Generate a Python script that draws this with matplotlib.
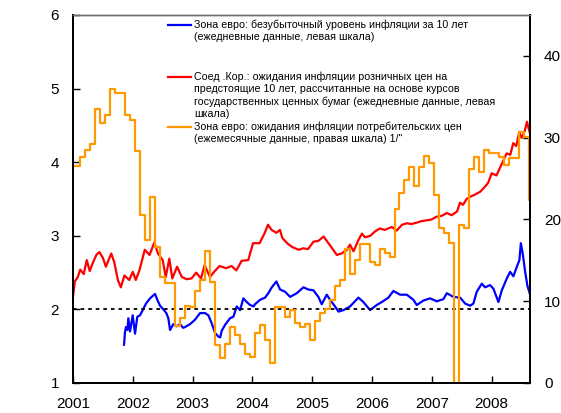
import numpy as np
import matplotlib.pyplot as plt
from matplotlib.lines import Line2D

plt.rcParams['font.family'] = ['Liberation Sans', 'DejaVu Sans']

# Зона евро: безубыточный уровень инфляции за 10 лет (левая шкала)
euro_t = [2001.853, 2001.87, 2001.886, 2001.91, 2001.925, 2001.953, 2001.998, 2002.037,
          2002.075, 2002.12, 2002.166, 2002.221, 2002.288, 2002.371, 2002.41, 2002.455,
          2002.522, 2002.56, 2002.594, 2002.622, 2002.677, 2002.734, 2002.789, 2002.84,
          2002.873, 2002.957, 2003.04, 2003.124, 2003.207, 2003.263, 2003.319, 2003.375,
          2003.43, 2003.46, 2003.487, 2003.542, 2003.625, 2003.681, 2003.737, 2003.793,
          2003.848, 2003.905, 2003.96, 2004.02, 2004.043, 2004.127, 2004.211, 2004.266,
          2004.323, 2004.40, 2004.462, 2004.545, 2004.629, 2004.741, 2004.852, 2004.935,
          2005.018, 2005.102, 2005.158, 2005.242, 2005.298, 2005.381, 2005.437, 2005.52,
          2005.632, 2005.771, 2005.855, 2005.967, 2006.078, 2006.162, 2006.273, 2006.356,
          2006.468, 2006.58, 2006.691, 2006.747, 2006.858, 2006.97, 2007.081, 2007.193,
          2007.249, 2007.36, 2007.472, 2007.555, 2007.639, 2007.694, 2007.75, 2007.834,
          2007.89, 2007.973, 2008.029, 2008.112, 2008.169, 2008.252, 2008.308, 2008.363,
          2008.42, 2008.463, 2008.487, 2008.52, 2008.559, 2008.597, 2008.642]
euro_be = [1.52, 1.70, 1.76, 1.72, 1.88, 1.70, 1.92, 1.67,
           1.90, 1.92, 1.99, 2.08, 2.15, 2.21, 2.13, 2.05,
           1.99, 1.95, 1.88, 1.72, 1.80, 1.77, 1.80, 1.75,
           1.76, 1.80, 1.86, 1.95, 1.95, 1.92, 1.81, 1.68,
           1.63, 1.62, 1.71, 1.79, 1.88, 1.90, 2.04, 1.99,
           2.15, 2.10, 2.06, 2.04, 2.07, 2.13, 2.16, 2.22,
           2.30, 2.38, 2.27, 2.24, 2.17, 2.22, 2.30, 2.27,
           2.26, 2.17, 2.07, 2.20, 2.13, 2.04, 1.97, 1.99,
           2.04, 2.16, 2.10, 1.99, 2.06, 2.10, 2.16, 2.25,
           2.20, 2.20, 2.13, 2.06, 2.12, 2.15, 2.11, 2.14,
           2.22, 2.17, 2.16, 2.08, 2.05, 2.08, 2.24, 2.35,
           2.30, 2.33, 2.28, 2.10, 2.26, 2.42, 2.51, 2.45,
           2.58, 2.67, 2.90, 2.75, 2.51, 2.32, 2.20]

# Соед. Кор.: ожидания инфляции по курсам гос. ценных бумаг (левая шкала)
us_t = [2001.00, 2001.03, 2001.08, 2001.12, 2001.18, 2001.23, 2001.28, 2001.33,
        2001.39, 2001.44, 2001.50, 2001.55, 2001.64, 2001.69, 2001.75, 2001.80,
        2001.86, 2001.94, 2002.00, 2002.05, 2002.11, 2002.20, 2002.28, 2002.36,
        2002.42, 2002.50, 2002.55, 2002.61, 2002.66, 2002.74, 2002.82, 2002.90,
        2002.98, 2003.06, 2003.14, 2003.20, 2003.29, 2003.37, 2003.45, 2003.56,
        2003.65, 2003.73, 2003.82, 2003.93, 2004.01, 2004.12, 2004.20, 2004.26,
        2004.32, 2004.40, 2004.46, 2004.50, 2004.58, 2004.66, 2004.77, 2004.85,
        2004.93, 2005.02, 2005.10, 2005.19, 2005.27, 2005.35, 2005.41, 2005.49,
        2005.58, 2005.63, 2005.69, 2005.77, 2005.83, 2005.88, 2005.97, 2006.05,
        2006.13, 2006.21, 2006.33, 2006.41, 2006.50, 2006.58, 2006.66, 2006.75,
        2006.83, 2006.91, 2006.99, 2007.08, 2007.16, 2007.25, 2007.33, 2007.42,
        2007.47, 2007.52, 2007.58, 2007.64, 2007.72, 2007.81, 2007.89, 2007.94,
        2008.00, 2008.08, 2008.17, 2008.25, 2008.31, 2008.36, 2008.41, 2008.46,
        2008.50, 2008.55, 2008.59, 2008.62, 2008.64]
us_tips = [2.17, 2.38, 2.44, 2.54, 2.48, 2.67, 2.52, 2.63,
           2.74, 2.78, 2.70, 2.58, 2.76, 2.64, 2.40, 2.30,
           2.46, 2.40, 2.51, 2.40, 2.53, 2.81, 2.74, 2.91,
           2.76, 2.67, 2.44, 2.69, 2.42, 2.58, 2.44, 2.41,
           2.42, 2.50, 2.42, 2.60, 2.44, 2.52, 2.59, 2.56,
           2.59, 2.53, 2.66, 2.67, 2.90, 2.90, 3.03, 3.15,
           3.08, 3.04, 3.08, 2.97, 2.90, 2.85, 2.81, 2.83,
           2.82, 2.92, 2.93, 2.99, 2.90, 2.81, 2.74, 2.76,
           2.81, 2.88, 2.79, 2.94, 3.03, 2.98, 3.00, 3.06,
           3.10, 3.08, 3.12, 3.07, 3.15, 3.17, 3.16, 3.18,
           3.20, 3.21, 3.22, 3.26, 3.27, 3.31, 3.28, 3.33,
           3.45, 3.42, 3.50, 3.53, 3.56, 3.60, 3.67, 3.72,
           3.85, 3.82, 3.98, 4.12, 4.10, 4.26, 4.22, 4.41,
           4.33, 4.42, 4.55, 4.45, 4.39]

# Зона евро: ожидания инфляции потребительских цен, ежемесячно с янв. 2001 (правая шкала)
euro_cpi = [26.5, 26.5, 27.6, 28.5, 29.2, 33.5, 31.8, 32.8, 35.9, 35.5, 35.5, 32.8,
            32.2, 28.4, 20.5, 17.5, 22.7, 16.6, 13.0, 12.25, 12.25, 7.0, 7.9, 9.4,
            9.3, 11.3, 12.6, 16.1, 12.4, 4.6, 3.0, 4.8, 6.8, 5.9, 4.8, 3.5,
            3.2, 6.1, 7.1, 5.3, 2.5, 9.3, 9.3, 8.1, 8.9, 7.3, 6.9, 7.2,
            5.3, 7.6, 8.5, 9.0, 10.1, 11.9, 12.6, 16.4, 13.3, 15.1, 17.0, 17.0,
            14.8, 14.4, 16.4, 15.9, 15.4, 21.3, 23.2, 24.8, 26.4, 24.1, 26.4, 27.75,
            26.9, 23.0, 18.9, 18.3, 17.1, 0.0, 19.3, 18.9, 26.2, 27.6, 25.8, 28.5,
            28.1, 28.1, 27.6, 26.7, 27.5, 27.5, 30.7, 30.1, 22.4]
cpi_t = 2001 + np.arange(len(euro_cpi)) / 12

years = list(range(2001, 2009))

labels = [
    "Зона евро: безубыточный уровень инфляции за 10 лет\n(ежедневные данные, левая шкала)",
    "Соед .Кор.: ожидания инфляции розничных цен на\nпредстоящие 10 лет, рассчитанные на основе курсов\n"
    "государственных ценных бумаг (ежедневные данные, левая\nшкала)",
    "Зона евро: ожидания инфляции потребительских цен\n(ежемесячные данные, правая шкала) 1/\"",
]
colors = ['#0000ff', '#ff0000', '#ff9900']

fig = plt.figure(figsize=(5.61, 4.13), dpi=100)
ax = fig.add_axes([73 / 561, 1 - 383 / 413, 457 / 561, 368 / 413])
ax2 = ax.twinx()

ax.plot(euro_t, euro_be, color=colors[0], lw=1.6)
ax.plot(us_t, us_tips, color=colors[1], lw=1.6)
ax.axhline(2, color='black', lw=1.3, ls=(0, (2, 2.2)))
ax2.plot(cpi_t, euro_cpi, color=colors[2], lw=1.6, drawstyle='steps-mid')

ax.set_xlim(2001, 2008.64)
ax.set_ylim(1, 6)
ax2.set_ylim(0, 45)
ax.set_xticks(years)
ax.set_xticklabels([str(y) for y in years])
ax.set_yticks(range(1, 7))
ax2.set_yticks([0, 10, 20, 30, 40])

ax.tick_params(axis='both', direction='in', length=5, width=1, labelsize=11)
ax.tick_params(axis='x', pad=10)
ax.tick_params(axis='y', pad=10)
ax2.tick_params(axis='y', direction='in', length=5, width=1, labelsize=11, pad=10)

for a in (ax, ax2):
    for s in ('left', 'bottom', 'right'):
        a.spines[s].set_linewidth(1.4)
        a.spines[s].set_color('black')
    a.spines['top'].set_color('#707070')
    a.spines['top'].set_linewidth(1)

# легенда
entries_y = [25, 77, 127]
for lab, c, y in zip(labels, colors, entries_y):
    fy = 1 - y / 413
    fig.add_artist(Line2D([168 / 561, 191 / 561], [fy, fy], color=c, lw=1.6))
    fig.text(194 / 561, fy + 5.5 / 413, lab, fontsize=7.7, va='top', ha='left',
             linespacing=1.27)

fig.savefig('out.png', dpi=100)
